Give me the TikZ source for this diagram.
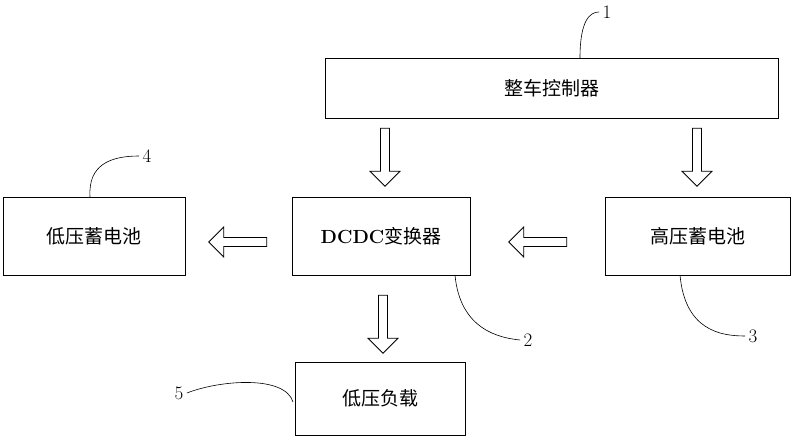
\documentclass[tikz,border=0pt]{standalone}
\usepackage{fontspec}
\newfontfamily\cjk{Noto Sans CJK SC}
\usetikzlibrary{shapes.arrows}
\begin{document}
\begin{tikzpicture}[x=1pt, y=-1pt,
    box/.style={draw, thick, font=\cjk\fontsize{19}{22}\selectfont, inner sep=0pt},
    flow/.style={single arrow, draw, thick, minimum height=58pt, minimum width=30pt,
      single arrow head extend=8pt, inner sep=3pt},
    tag/.style={font=\fontsize{19}{22}\selectfont},
    lead/.style={semithick}]
  \useasboundingbox (0,0) rectangle (793,443);

  % Boxes
  \node[box, minimum width=453pt, minimum height=60pt] (vcu) at (551.5,88) {整车控制器};
  \node[box, minimum width=182pt, minimum height=78pt] (lvb) at (94,236) {低压蓄电池};
  \node[box, minimum width=178pt, minimum height=78pt] (dcdc) at (381,236) {\textbf{\rmfamily DCDC}变换器};
  \node[box, minimum width=185pt, minimum height=78pt] (hvb) at (697.5,236) {高压蓄电池};
  \node[box, minimum width=170pt, minimum height=73pt] (load) at (380,398.5) {低压负载};

  % Hollow arrows
  \node[flow, shape border rotate=270] (a1) at (385,155) {};
  \node[flow, shape border rotate=270] (a2) at (697,155) {};
  \node[flow, shape border rotate=180] (a3) at (240,242) {};
  \node[flow, shape border rotate=180] (a4) at (540,242) {};
  \node[flow, shape border rotate=270] (a5) at (383,322) {};

  % Part labels
  \node[tag] (n1) at (607,12) {1};
  \node[tag] (n2) at (528,340) {2};
  \node[tag] (n3) at (753,336) {3};
  \node[tag] (n4) at (147,156) {4};
  \node[tag] (n5) at (179,393) {5};

  \coordinate (c1) at (580,58);
  \coordinate (c2) at (455,275);
  \coordinate (c3) at (680,275);
  \coordinate (c4) at (90,197);
  \coordinate (c5) at (293,402);

  % Leader lines
  \draw[lead] (c1) .. controls (580,20) and (590,12) .. (n1.west);
  \draw[lead] (c2) .. controls (460,330) and (500,338) .. (n2.west);
  \draw[lead] (c3) .. controls (685,330) and (720,336) .. (n3.west);
  \draw[lead] (c4) .. controls (88,165) and (110,156) .. (n4.west);
  \draw[lead] (c5) .. controls (285,375) and (220,380) .. (n5.east);
\end{tikzpicture}
\end{document}
